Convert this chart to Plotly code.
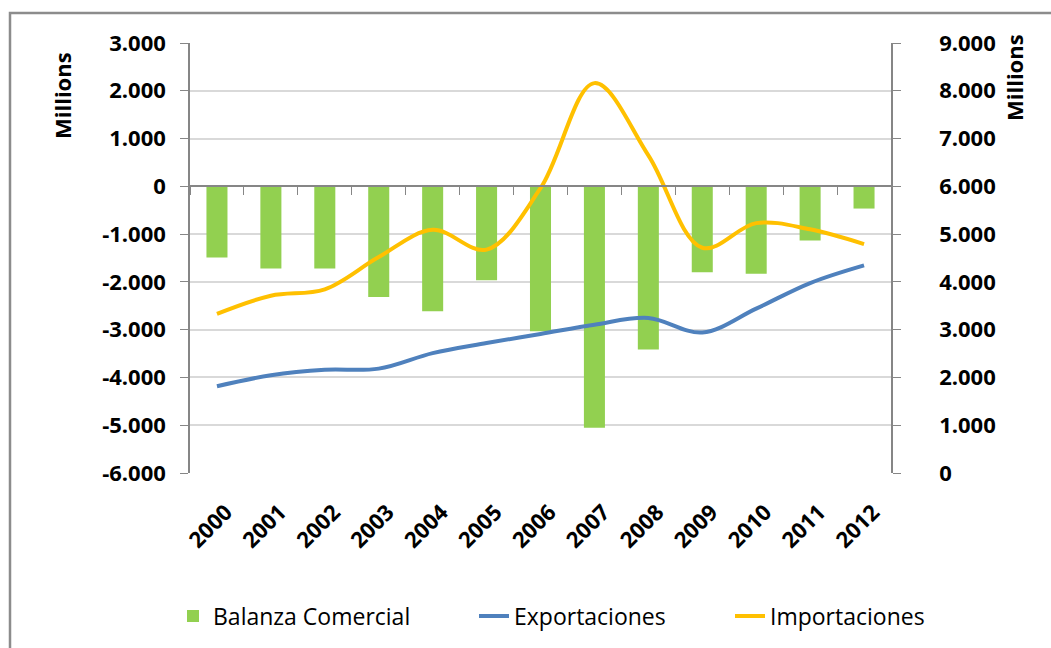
import plotly.graph_objects as go

years = ["2000", "2001", "2002", "2003", "2004", "2005", "2006",
         "2007", "2008", "2009", "2010", "2011", "2012"]
balanza = [-1490, -1720, -1720, -2315, -2615, -1965, -3035, -5055, -3415, -1800, -1830, -1135, -465]
exportaciones = [1815, 2045, 2160, 2185, 2510, 2720, 2910, 3105, 3245, 2940, 3440, 3975, 4345]
importaciones = [3330, 3710, 3845, 4520, 5090, 4675, 5960, 8160, 6650, 4715, 5230, 5100, 4790]

left_ticks = [-6000, -5000, -4000, -3000, -2000, -1000, 0, 1000, 2000, 3000]
left_labels = ["-6.000", "-5.000", "-4.000", "-3.000", "-2.000", "-1.000", "0", "1.000", "2.000", "3.000"]
right_ticks = [0, 1000, 2000, 3000, 4000, 5000, 6000, 7000, 8000, 9000]
right_labels = ["0", "1.000", "2.000", "3.000", "4.000", "5.000", "6.000", "7.000", "8.000", "9.000"]

GREEN = "#92D050"
BLUE = "#4F81BD"
ORANGE = "#FFC000"
AXIS = "#868686"
GRID = "#D9D9D9"
FONT = "Open Sans"

tickfont = dict(family=FONT, size=22, color="black", weight="bold")
legfont = dict(family=FONT, size=23, color="black")

fig = go.Figure()
fig.add_trace(go.Bar(x=years, y=balanza, name="Balanza Comercial",
                     marker=dict(color=GREEN, line=dict(width=0)),
                     xaxis="x", yaxis="y", legend="legend"))
fig.add_trace(go.Scatter(x=years, y=exportaciones, name="Exportaciones", mode="lines",
                         line=dict(color=BLUE, width=4, shape="spline", smoothing=1),
                         xaxis="x2", yaxis="y2", legend="legend2"))
fig.add_trace(go.Scatter(x=years, y=importaciones, name="Importaciones", mode="lines",
                         line=dict(color=ORANGE, width=4, shape="spline", smoothing=1),
                         xaxis="x2", yaxis="y2", legend="legend3"))

W, H = 1051, 648
L, R, T, B = 190, 160, 43, 175
pw, ph = W - L - R, H - T - B


def px(x):
    return (x - L) / pw


def py(y):
    return (H - B - y) / ph


leg_common = dict(orientation="h", font=legfont, bgcolor="rgba(0,0,0,0)",
                  yanchor="middle", xanchor="left", itemwidth=30)

fig.update_layout(
    width=W, height=H,
    margin=dict(l=L, r=R, t=T, b=B, autoexpand=False),
    paper_bgcolor="white", plot_bgcolor="white",
    bargap=0.61,
    showlegend=True,
    legend=dict(x=px(173), y=py(616), **leg_common),
    legend2=dict(x=px(474), y=py(616), **leg_common),
    legend3=dict(x=px(730), y=py(616), **leg_common),
    xaxis=dict(type="category", categoryorder="array", categoryarray=years,
               range=[-0.5, 12.5], anchor="free", position=2 / 3,
               showline=True, linecolor=AXIS, linewidth=1.5,
               ticks="outside", tickson="boundaries", ticklen=8, tickcolor=AXIS,
               showticklabels=False, showgrid=False, zeroline=False, automargin=False),
    xaxis2=dict(type="category", categoryorder="array", categoryarray=years,
                range=[-0.5, 12.5], overlaying="x", anchor="y2", side="bottom",
                showline=False, ticks="", showgrid=False, zeroline=False,
                tickangle=-45, tickfont=tickfont, ticklabelstandoff=21,
                ticklabelshift=9, automargin=False),
    yaxis=dict(range=[-6000, 3000], tickvals=left_ticks, ticktext=left_labels,
               anchor="x", side="left", position=0,
               showline=True, linecolor=AXIS, linewidth=1.5, mirror=False,
               ticks="outside", ticklen=8, tickcolor=AXIS,
               showgrid=True, gridcolor=GRID, gridwidth=1.5, zeroline=False,
               tickfont=tickfont, ticklabelstandoff=10, automargin=False),
    yaxis2=dict(range=[0, 9000], tickvals=right_ticks, ticktext=right_labels,
                overlaying="y", side="right", anchor="x2",
                showline=True, linecolor=AXIS, linewidth=1.5,
                ticks="outside", ticklen=8, tickcolor=AXIS,
                showgrid=False, zeroline=False,
                tickfont=tickfont, ticklabelstandoff=34, automargin=False),
    annotations=[
        dict(text="Millions", x=px(62), y=py(96), xref="paper", yref="paper",
             xanchor="center", yanchor="middle",
             textangle=-90, showarrow=False,
             font=dict(family=FONT, size=22, color="black", weight="bold")),
        dict(text="Millions", x=px(1014), y=py(78), xref="paper", yref="paper",
             xanchor="center", yanchor="middle",
             textangle=-90, showarrow=False,
             font=dict(family=FONT, size=22, color="black", weight="bold")),
    ],
    shapes=[
        dict(type="rect", xref="paper", yref="paper",
             x0=px(10), y0=py(700), x1=px(1100), y1=py(13),
             line=dict(color="#8C8C8C", width=2.5), fillcolor="rgba(0,0,0,0)", layer="below"),
    ],
)

fig.write_html("out.html",
               config={"displayModeBar": False},
               post_script="document.body.style.margin='0';document.body.style.overflow='hidden';")
